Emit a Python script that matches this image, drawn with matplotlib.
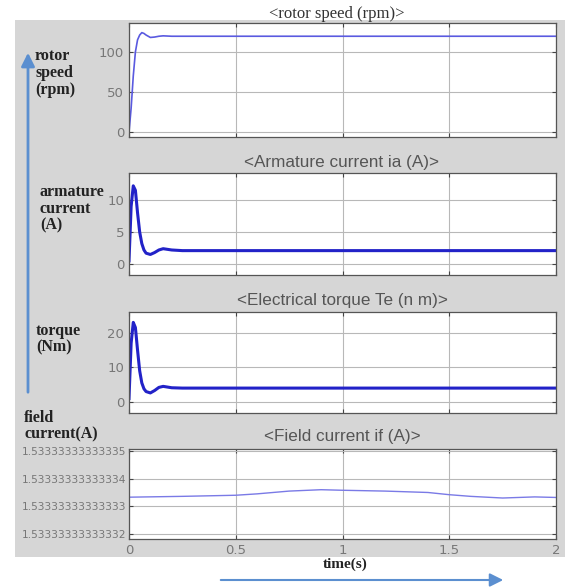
import matplotlib
matplotlib.use("Agg")
import matplotlib.pyplot as plt
from matplotlib.patches import Rectangle, FancyArrowPatch

# === data ===
t = [0, 0.01, 0.02, 0.03, 0.04, 0.05, 0.06, 0.07, 0.08, 0.1, 0.12, 0.14, 0.16,
     0.2, 0.25, 0.3, 0.5, 0.75, 1.0, 1.25, 1.5, 1.75, 2.0]
speed = [0, 30, 70, 100, 115, 121, 124, 123, 121, 118, 118.5, 119.5, 120,
         119.5, 119.5, 119.5, 119.5, 119.5, 119.5, 119.5, 119.5, 119.5, 119.5]
ia = [0.5, 9, 12.2, 11.5, 8, 5, 3.2, 2.2, 1.7, 1.5, 1.8, 2.2, 2.4,
      2.2, 2.1, 2.1, 2.1, 2.1, 2.1, 2.1, 2.1, 2.1, 2.1]
torque = [1, 17, 23, 21.5, 15, 9, 5.5, 3.8, 3.0, 2.6, 3.3, 4.2, 4.5,
          4.1, 4.0, 4.0, 4.0, 4.0, 4.0, 4.0, 4.0, 4.0, 4.0]
t_if = [0, 0.25, 0.5, 0.6, 0.75, 0.9, 1.0, 1.2, 1.4, 1.5, 1.6, 1.75, 1.9, 2.0]
# field current, last digit offset (1.5333333333333x)
i_f = [3.33, 3.36, 3.4, 3.45, 3.55, 3.6, 3.58, 3.55, 3.5, 3.42, 3.36, 3.3,
       3.34, 3.32]
if_ticks = [2, 3, 4, 5]
if_labels = ["1.53333333333332", "1.53333333333333",
             "1.53333333333334", "1.53333333333335"]
x_ticks = [0, 0.5, 1, 1.5, 2]
x_labels = ["0", "0.5", "1", "1.5", "2"]

W, H = 575, 587
fig = plt.figure(figsize=(W / 100, H / 100), dpi=100)
fig.patch.set_facecolor("white")

# gray scope background
fig.patches.append(Rectangle((15 / W, 1 - 557 / H), 550 / W, 537 / H,
                             transform=fig.transFigure, facecolor="#d6d6d6",
                             edgecolor="none", zorder=-10))


def px_axes(top, bottom):
    return fig.add_axes([129 / W, 1 - bottom / H, 427 / W, (bottom - top) / H])


def style(ax, yticks, ylim, show_x=False):
    ax.set_facecolor("white")
    ax.set_xlim(0, 2)
    ax.set_ylim(*ylim)
    ax.set_xticks(x_ticks)
    ax.set_yticks(yticks)
    ax.grid(True, color="#b8b8b8", linewidth=0.8)
    ax.tick_params(direction="in", length=3, labelsize=9.5, colors="#444444",
                   labelcolor="#777777", right=True, top=True)
    if show_x:
        ax.set_xticklabels(x_labels)
    else:
        ax.set_xticklabels([])
    for s in ax.spines.values():
        s.set_color("#555555")
        s.set_linewidth(0.9)


ax1 = px_axes(23, 137)
ax1.plot(t, speed, color="#5a5ae0", linewidth=1.2)
style(ax1, [0, 50, 100], (-6, 136))

ax2 = px_axes(173, 275)
ax2.plot(t, ia, color="#2222c8", linewidth=2.2)
style(ax2, [0, 5, 10], (-1.7, 14.2))

ax3 = px_axes(312, 413)
ax3.plot(t, torque, color="#2222c8", linewidth=2.2)
style(ax3, [0, 10, 20], (-3.2, 26))

ax4 = px_axes(449, 539)
ax4.plot(t_if, i_f, color="#7a7ae6", linewidth=1.0)
style(ax4, if_ticks, (1.82, 5.07), show_x=True)
ax4.set_yticklabels(if_labels)
ax4.tick_params(axis="y", labelsize=7.7, pad=2)


def ftxt(x, y, s, **kw):
    fig.text(x / W, 1 - y / H, s, **kw)


# scope titles
ftxt(337, 14, "<rotor speed (rpm)>", ha="center", va="center",
     family="Liberation Serif", fontsize=12, color="#333333")
ftxt(341, 162, "<Armature current ia (A)>", ha="center", va="center",
     family="Liberation Sans", fontsize=12.3, color="#555555")
ftxt(342, 300, "<Electrical torque Te (n m)>", ha="center", va="center",
     family="Liberation Sans", fontsize=12.3, color="#555555")
ftxt(342, 437, "<Field current if (A)>", ha="center", va="center",
     family="Liberation Sans", fontsize=12.3, color="#555555")

# hand-written labels on the left
lab = dict(family="Liberation Serif", fontweight="bold", fontsize=11.5,
           color="#222222", va="center", ha="left", linespacing=1.05)
ftxt(35, 73, "rotor\nspeed\n(rpm)", **lab)
ftxt(40, 209, "armature\ncurrent\n(A)", **lab)
ftxt(36, 339, "torque\n(Nm)", **lab)
ftxt(24, 426, "field\ncurrent(A)", **lab)
ftxt(345, 564, "time(s)", ha="center", va="center", family="Liberation Serif",
     fontweight="bold", fontsize=11, color="#222222")

# blue arrows
fig.patches.append(FancyArrowPatch((28 / W, 1 - 395 / H), (28 / W, 1 - 50 / H),
                                   transform=fig.transFigure, arrowstyle="-|>",
                                   mutation_scale=20, color="#5b8fd0",
                                   linewidth=2, zorder=5))
fig.patches.append(FancyArrowPatch((218 / W, 1 - 580 / H), (506 / W, 1 - 580 / H),
                                   transform=fig.transFigure, arrowstyle="-|>",
                                   mutation_scale=20, color="#5b8fd0",
                                   linewidth=1.5, zorder=5))

fig.savefig("out.png", dpi=100)
